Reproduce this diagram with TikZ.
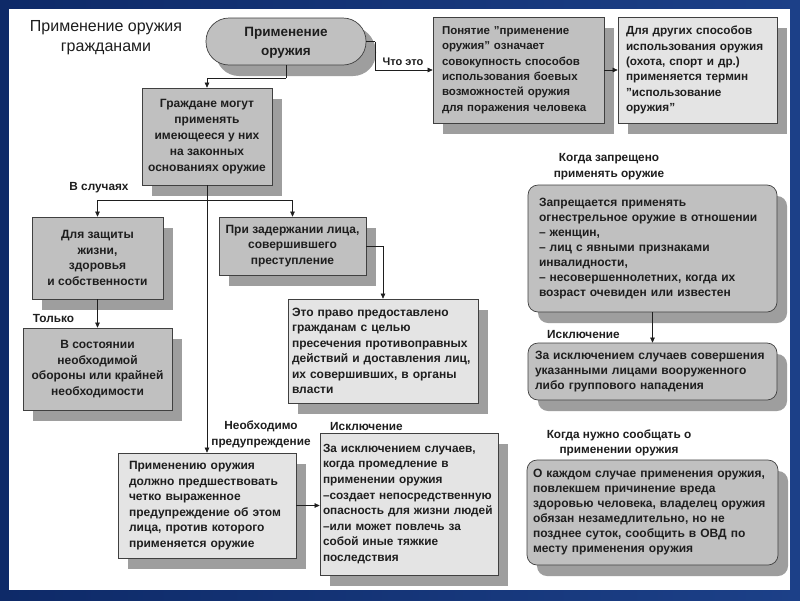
\documentclass[tikz,border=0pt]{standalone}
\usepackage{fontspec}
\setmainfont{Liberation Sans}
\usetikzlibrary{shadows,arrows.meta}
\definecolor{gmed}{RGB}{192,192,192}
\definecolor{glight}{RGB}{228,228,228}
\definecolor{gshadow}{RGB}{158,158,158}
\definecolor{frameblue}{RGB}{28,64,136}
\definecolor{frameblueb}{RGB}{14,42,104}
\definecolor{ink}{RGB}{30,30,30}
\begin{document}
\begin{tikzpicture}[x=1pt,y=-1pt,
  base/.style={draw=ink!85, line width=0.7pt, font=\bfseries\fontsize{12}{15.5}\selectfont, text=ink, inner ysep=2pt,
    drop shadow={shadow xshift=10pt, shadow yshift=-11pt, fill=gshadow, opacity=1}},
  cbox/.style={base, align=center, fill=gmed},
  lbox/.style={base, align=left},
  rbox/.style={lbox, fill=gmed, rounded corners=10pt, font=\bfseries\fontsize{12}{15}\selectfont},
  conn/.style={draw=ink, line width=0.6pt, -{Triangle[length=5pt,width=4.5pt]}},
  plainline/.style={draw=ink, line width=0.6pt},
  lab/.style={font=\bfseries\fontsize{11.8}{15}\selectfont, text=ink, inner sep=0pt, align=center},
  ttl/.style={font=\fontsize{16}{20}\selectfont, text=ink, inner sep=0pt, align=center}
]
\useasboundingbox (0,0) rectangle (800,600);
\shade[left color=frameblueb, right color=frameblue] (0,0) rectangle (800,600);
\fill[white] (9,9) rectangle (790,590);

% title
\node[ttl] (title) at (106,37.5) {Применение оружия\\гражданами};

% top node
\node[base, fill=gmed, rounded corners=23pt, minimum width=160pt, minimum height=47pt, align=center,
  font=\bfseries\fontsize{13.5}{20}\selectfont,
  drop shadow={shadow xshift=9pt, shadow yshift=-9pt, fill=gshadow, opacity=1}] (top) at (286,41.5)
  {\raisebox{-1.5pt}{\begin{tabular}{@{}c@{}}Применение\\[-1pt]оружия\end{tabular}}};

% definition boxes
\node[lbox, fill=gmed, minimum width=171pt, minimum height=106pt, inner xsep=9pt, text width=153pt,
  font=\bfseries\fontsize{11.5}{15.3}\selectfont] (pon) at (518.5,70)
  {Понятие "применение\\оружия" означает\\совокупность способов\\использования боевых\\возможностей оружия\\для поражения человека};
\node[lbox, fill=glight, minimum width=159pt, minimum height=106pt, inner xsep=8pt, text width=143pt,
  font=\bfseries\fontsize{11.75}{15.3}\selectfont] (dr) at (697.5,70)
  {Для других способов\\использования оружия\\(охота, спорт и др.)\\применяется термин\\"использование\\оружия"};

% central boxes
\node[cbox, minimum width=130pt, minimum height=97pt, font=\bfseries\fontsize{12}{16}\selectfont] (gr) at (207,136.5)
  {Граждане могут\\применять\\имеющееся у них\\на законных\\основаниях оружие};
\node[cbox, minimum width=131pt, minimum height=82pt] (zash) at (97.5,258)
  {Для защиты\\жизни,\\здоровья\\и собственности};
\node[cbox, minimum width=147pt, minimum height=58pt] (zad) at (292.5,246)
  {При задержании лица,\\совершившего\\преступление};
\node[cbox, minimum width=149pt, minimum height=82pt] (sost) at (97.5,369)
  {В состоянии\\необходимой\\обороны или крайней\\необходимости};
\node[lbox, fill=glight, minimum width=190pt, minimum height=104pt, inner xsep=4pt, text width=182pt] (pravo) at (383,351)
  {Это право предоставлено\\гражданам с целью\\пресечения противоправных\\действий и доставления лиц,\\их совершивших, в органы\\власти};
\node[lbox, fill=glight, minimum width=178pt, minimum height=105pt, inner xsep=11pt, text width=156pt] (pred) at (207,505.5)
  {Применению оружия\\должно предшествовать\\четко выраженное\\предупреждение об этом\\лица, против которого\\применяется оружие};
\node[lbox, fill=glight, minimum width=178pt, minimum height=142pt, inner xsep=3pt, text width=172pt,
  font=\bfseries\fontsize{11.8}{15.6}\selectfont] (iskl) at (409,504)
  {За исключением случаев,\\когда промедление в\\применении оружия\\–создает непосредственную\\опасность для жизни людей\\–или может повлечь за\\собой иные тяжкие\\последствия};

% right column
\node[rbox, minimum width=249pt, minimum height=127pt, inner xsep=11pt, text width=227pt] (zapr) at (652.5,248.5)
  {Запрещается применять\\огнестрельное оружие в отношении\\– женщин,\\– лиц с явными признаками\\инвалидности,\\– несовершеннолетних, когда их\\возраст очевиден или известен};
\node[rbox, minimum width=249pt, minimum height=57pt, inner xsep=7pt, text width=235pt] (iskl2) at (652.5,371.5)
  {За исключением случаев совершения\\указанными лицами вооруженного\\либо группового нападения};
\node[rbox, minimum width=251pt, minimum height=105pt, inner xsep=6pt, text width=239pt] (okazh) at (652.5,512.5)
  {О каждом случае применения оружия,\\повлекшем причинение вреда\\здоровью человека, владелец оружия\\обязан незамедлительно, но не\\позднее суток, сообщить в ОВД по\\месту применения оружия};

% labels
\node[lab, font=\bfseries\fontsize{11}{15}\selectfont] (lchto) at (403,62) {Что это};
\node[lab] (lsluch) at (99,188) {В случаях};
\node[lab] (ltolko) at (53.5,318) {Только};
\node[lab, font=\bfseries\fontsize{11.8}{16}\selectfont] (lneobh) at (261,434) {Необходимо\\предупреждение};
\node[lab] (lisk1) at (366.5,426) {Исключение};
\node[lab, font=\bfseries\fontsize{11.8}{16.5}\selectfont] (lkogda1) at (609,166.5) {Когда запрещено\\применять оружие};
\node[lab] (lisk2) at (583.5,334) {Исключение};
\node[lab] (lkogda2) at (619,442.5) {Когда нужно сообщать о\\применении оружия};

% connectors
\coordinate (topdrop) at (286,78);
\coordinate (chtoturn) at (375,41.5);
\coordinate (split) at (207,200);
\draw[plainline] (top.south) -- (topdrop);
\draw[conn] (topdrop) -| (gr.north);
\draw[plainline] (top.east) -- (chtoturn);
\draw[conn] (chtoturn) |- (pon.west);
\draw[conn] (pon.east) -- (dr.west);
\draw[conn] (split) -| (zash.north);
\draw[conn] (split) -| (zad.north);
\draw[conn] (gr.south) -- (pred.north);
\draw[conn] (zash.south) -- (sost.north);
\draw[conn] (zad.east) -| (pravo.north);
\draw[conn] (pred.east) -- (pred.east -| iskl.west);
\draw[conn] (zapr.south) -- (iskl2.north);
\end{tikzpicture}
\end{document}
